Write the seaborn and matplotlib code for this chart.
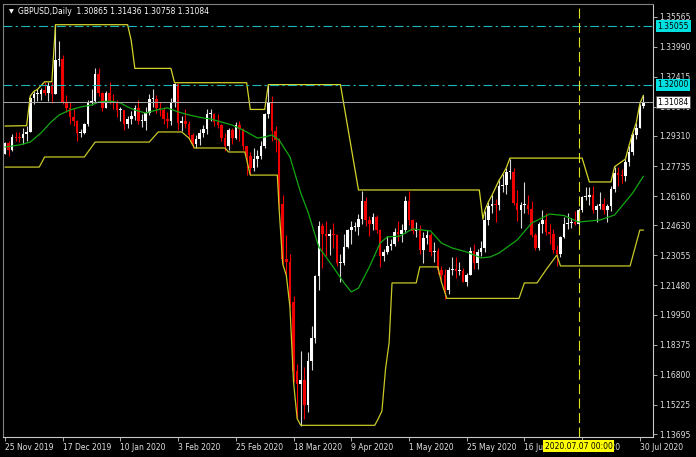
import numpy as np
import pandas as pd
import matplotlib
matplotlib.use("Agg")
import matplotlib.pyplot as plt
import matplotlib.transforms as mtransforms
import seaborn as sns


# === Daily bars 25 Nov 2019 .. 31 Jul 2020 (weekdays, no 25 Dec / 1 Jan) === #
dates = pd.bdate_range("2019-11-25", "2020-07-31")
dates = dates[~dates.isin(pd.to_datetime(["2019-12-25", "2020-01-01"]))]

first_open = 1.2838

closes = [
    # Nov
    1.2893, 1.2858, 1.2925, 1.2920, 1.2918,
    # Dec
    1.2942, 1.2953, 1.3132, 1.3150, 1.3152, 1.3170, 1.3155, 1.3195, 1.3150, 1.3330,
    1.3335, 1.3110, 1.3080, 1.3030, 1.3010, 1.2945, 1.2945, 1.2995, 1.3105, 1.3115, 1.3255,
    # Jan
    1.3155, 1.3080, 1.3155, 1.3115, 1.3110, 1.3065, 1.3065, 1.2995, 1.3020, 1.3035, 1.3075,
    1.3010, 1.3010, 1.3050, 1.3125, 1.3125, 1.3075, 1.3065, 1.3020, 1.3010, 1.3110, 1.3205,
    # Feb
    1.3000, 1.3010, 1.2995, 1.2935, 1.2890, 1.2915, 1.2945, 1.2970, 1.3045, 1.3045,
    1.3005, 1.2990, 1.2920, 1.2880, 1.2960, 1.2920, 1.2990, 1.2970, 1.2880, 1.2825,
    # Mar
    1.2765, 1.2810, 1.2825, 1.2880, 1.3045, 1.3110, 1.2955, 1.2910, 1.2575, 1.2285, 1.2270,
    1.2060, 1.1700, 1.1630, 1.1650, 1.1520, 1.1750, 1.1875, 1.2195, 1.2460, 1.2415, 1.2405,
    # Apr
    1.2415, 1.2410, 1.2265, 1.2265, 1.2350, 1.2440, 1.2455, 1.2455, 1.2495, 1.2590, 1.2490,
    1.2470, 1.2505, 1.2440, 1.2300, 1.2325, 1.2355, 1.2365, 1.2430, 1.2415, 1.2440, 1.2590,
    # May
    1.2490, 1.2435, 1.2440, 1.2335, 1.2395, 1.2410, 1.2325, 1.2330, 1.2230, 1.2200, 1.2125,
    1.2230, 1.2235, 1.2225, 1.2225, 1.2165, 1.2200, 1.2330, 1.2265, 1.2325, 1.2345,
    # Jun
    1.2490, 1.2565, 1.2575, 1.2570, 1.2670, 1.2675, 1.2740, 1.2740, 1.2580, 1.2545, 1.2570,
    1.2570, 1.2550, 1.2410, 1.2345, 1.2470, 1.2490, 1.2430, 1.2415, 1.2335, 1.2310, 1.2400,
    # Jul
    1.2470, 1.2475, 1.2480, 1.2470, 1.2545, 1.2610, 1.2610, 1.2620, 1.2545, 1.2565, 1.2575, 1.2545,
    1.2565, 1.2655, 1.2735, 1.2725, 1.2720, 1.2795, 1.2845, 1.2935, 1.2975, 1.30865, 1.31084,
]

highs = [
    1.2900, 1.2905, 1.2940, 1.2950, 1.2950,
    1.2975, 1.2985, 1.3140, 1.3165, 1.3175, 1.3180, 1.3215, 1.3215, 1.3215, 1.3514,
    1.3430, 1.3355, 1.3145, 1.3110, 1.3075, 1.3015, 1.2970, 1.3000, 1.3120, 1.3175, 1.3285,
    1.3285, 1.3160, 1.3165, 1.3215, 1.3150, 1.3120, 1.3085, 1.3065, 1.3035, 1.3060, 1.3095,
    1.3120, 1.3045, 1.3085, 1.3150, 1.3175, 1.3145, 1.3110, 1.3085, 1.3055, 1.3130, 1.3210,
    1.3210, 1.3035, 1.3070, 1.3010, 1.2945, 1.2935, 1.2965, 1.2990, 1.3070, 1.3070,
    1.3050, 1.3045, 1.2995, 1.2945, 1.2975, 1.2975, 1.3005, 1.3010, 1.2975, 1.2880,
    1.2845, 1.2870, 1.2860, 1.2905, 1.3050, 1.3200, 1.3140, 1.2985, 1.2920, 1.2620, 1.2410,
    1.2310, 1.2090, 1.1735, 1.1805, 1.1720, 1.1800, 1.1935, 1.2205, 1.2485, 1.2475, 1.2485,
    1.2445, 1.2475, 1.2415, 1.2315, 1.2415, 1.2445, 1.2485, 1.2480, 1.2520, 1.2645, 1.2610,
    1.2510, 1.2530, 1.2515, 1.2445, 1.2340, 1.2405, 1.2390, 1.2450, 1.2485, 1.2470, 1.2615,
    1.2645, 1.2495, 1.2480, 1.2465, 1.2430, 1.2440, 1.2420, 1.2375, 1.2345, 1.2250, 1.2235,
    1.2245, 1.2295, 1.2295, 1.2270, 1.2240, 1.2215, 1.2350, 1.2365, 1.2340, 1.2380,
    1.2540, 1.2585, 1.2620, 1.2600, 1.2700, 1.2730, 1.2765, 1.2812, 1.2765, 1.2650, 1.2585,
    1.2690, 1.2620, 1.2590, 1.2425, 1.2480, 1.2545, 1.2530, 1.2470, 1.2445, 1.2360, 1.2405,
    1.2505, 1.2530, 1.2500, 1.2540, 1.2555, 1.2615, 1.2665, 1.2665, 1.2670, 1.2575, 1.2640, 1.2605,
    1.2575, 1.2670, 1.2770, 1.2770, 1.2760, 1.2810, 1.2880, 1.2945, 1.3000, 1.3100, 1.31436,
]

lows = [
    1.2835, 1.2825, 1.2850, 1.2905, 1.2900,
    1.2890, 1.2905, 1.2950, 1.3100, 1.3115, 1.3120, 1.3145, 1.3115, 1.3105, 1.3150,
    1.3300, 1.3100, 1.3055, 1.2995, 1.2985, 1.2905, 1.2925, 1.2940, 1.2985, 1.3095, 1.3105,
    1.3140, 1.3060, 1.3080, 1.3100, 1.3070, 1.3030, 1.3010, 1.2960, 1.2975, 1.2995, 1.3015,
    1.2995, 1.2980, 1.2960, 1.3040, 1.3085, 1.3050, 1.3035, 1.2995, 1.2975, 1.2990, 1.3085,
    1.2960, 1.2955, 1.2975, 1.2920, 1.2870, 1.2870, 1.2885, 1.2925, 1.2940, 1.3010,
    1.2985, 1.2975, 1.2905, 1.2850, 1.2855, 1.2890, 1.2915, 1.2905, 1.2860, 1.2725,
    1.2725, 1.2745, 1.2770, 1.2810, 1.2870, 1.3025, 1.2905, 1.2845, 1.2550, 1.2260, 1.2200,
    1.2035, 1.1640, 1.1450, 1.1409, 1.1450, 1.1485, 1.1705, 1.1845, 1.2125, 1.2240, 1.2300,
    1.2305, 1.2345, 1.2250, 1.2165, 1.2255, 1.2345, 1.2365, 1.2435, 1.2410, 1.2470, 1.2460,
    1.2405, 1.2440, 1.2425, 1.2245, 1.2275, 1.2310, 1.2335, 1.2355, 1.2380, 1.2375, 1.2420,
    1.2465, 1.2415, 1.2400, 1.2315, 1.2265, 1.2365, 1.2300, 1.2270, 1.2210, 1.2165, 1.2075,
    1.2105, 1.2205, 1.2185, 1.2200, 1.2165, 1.2145, 1.2200, 1.2235, 1.2235, 1.2300,
    1.2325, 1.2465, 1.2530, 1.2480, 1.2545, 1.2635, 1.2625, 1.2705, 1.2570, 1.2485, 1.2450,
    1.2530, 1.2520, 1.2400, 1.2335, 1.2335, 1.2425, 1.2410, 1.2365, 1.2320, 1.2250, 1.2295,
    1.2395, 1.2445, 1.2450, 1.2465, 1.2465, 1.2535, 1.2595, 1.2570, 1.2530, 1.2480, 1.2550, 1.2520,
    1.2480, 1.2540, 1.2640, 1.2670, 1.2685, 1.2695, 1.2775, 1.2830, 1.2915, 1.2975, 1.30758,
]

# === Indicator lines (bar index, price) === #
ma_x = [0, 4, 7, 10, 12.5, 15, 18, 21, 24, 26, 29, 32, 34, 36, 39, 42, 45, 48, 51, 55,
        57, 60, 63, 66, 68.5, 70, 72, 74, 76, 79, 82, 84, 87, 91, 94, 96, 98, 101, 104, 106,
        109.5, 113, 118, 121, 124, 128, 132, 134.5, 137, 142, 146, 151, 155, 159, 165, 169, 174, 177]
ma_y = [1.2873, 1.2884, 1.2899, 1.2947, 1.2999, 1.3041, 1.3067, 1.3083, 1.3093, 1.3109,
        1.3114, 1.3104, 1.3083, 1.3067, 1.3051, 1.3067, 1.3078, 1.3057, 1.3041, 1.3025,
        1.3020, 1.3004, 1.2988, 1.2962, 1.2936, 1.2920, 1.2926, 1.2936, 1.2910, 1.2821,
        1.2632, 1.2533, 1.2349, 1.2244, 1.2161, 1.2114, 1.2134, 1.2244, 1.2370, 1.2402,
        1.2407, 1.2444, 1.2433, 1.2370, 1.2344, 1.2323, 1.2292, 1.2297, 1.2318, 1.2386,
        1.2475, 1.2522, 1.2514, 1.2480, 1.2491, 1.2517, 1.2632, 1.2720]

upper_x = [0, 6, 7, 8, 9, 11, 13, 14, 34, 35, 36, 46, 47, 67, 68, 72, 73, 93, 98, 131.5,
           132.5, 133, 134, 135, 137, 138, 139, 140, 160, 162, 168, 169, 172, 173, 174, 175, 176, 177]
upper_y = [1.2983, 1.2985, 1.3140, 1.3165, 1.3175, 1.3215, 1.3215, 1.3514, 1.3514, 1.3430,
           1.3285, 1.3285, 1.3210, 1.3210, 1.3070, 1.3070, 1.3200, 1.3200, 1.2648, 1.2648,
           1.2495, 1.2540, 1.2585, 1.2620, 1.2700, 1.2730, 1.2765, 1.2815, 1.2815, 1.2690,
           1.2690, 1.2770, 1.2810, 1.2880, 1.2945, 1.3000, 1.3100, 1.3144]

lower_x = [0, 9.5, 11, 22, 25, 40, 42.5, 49, 51, 52.5, 61, 62, 66.5, 68, 75.5, 76, 77, 78, 79, 80,
           81, 82, 102.5, 103.5, 104.5, 105.5, 106.5, 107.3, 114, 115, 120, 121, 122.5, 142.5, 144,
           147.5, 150, 153, 154, 173.3, 176, 177]
lower_y = [1.2768, 1.2768, 1.2821, 1.2821, 1.2899, 1.2899, 1.2952, 1.2952, 1.2920, 1.2868,
           1.2868, 1.2847, 1.2847, 1.2726, 1.2726, 1.2550, 1.2260, 1.2200, 1.2035, 1.1640,
           1.1450, 1.1415, 1.1415, 1.1450, 1.1490, 1.1710, 1.1850, 1.2161, 1.2161, 1.2245,
           1.2245, 1.2165, 1.2080, 1.2080, 1.2161, 1.2161, 1.2230, 1.2307, 1.2250, 1.2250,
           1.2438, 1.2438]

levels = [1.35055, 1.32000]
bid_price = 1.31084
price_ticks = [1.35565, 1.33990, 1.32415, 1.30840, 1.29310, 1.27735, 1.26160, 1.24630,
               1.23055, 1.21480, 1.19950, 1.18375, 1.16800, 1.15225, 1.13695]
marked_bar = 159
marked_label = "2020.07.07 00:00"
title = "GBPUSD,Daily  1.30865 1.31436 1.30758 1.31084"

df = pd.DataFrame({"date": dates, "open": [first_open] + closes[:-1],
                   "high": highs, "low": lows, "close": closes})
df["x"] = np.arange(len(df))

# === Style === #
sns.set_style("dark", {"axes.facecolor": "black", "figure.facecolor": "black"})
plt.rcParams["font.family"] = ["DejaVu Sans"]
fs = 5.5
txt_col = "#e0e0e0"

fig = plt.figure(figsize=(6.96, 4.57), dpi=100)
fig.patch.set_facecolor("black")
ax = fig.add_axes([3 / 696, 20 / 457, 650 / 696, 433 / 457])
ax.set_facecolor("black")

# === Candles === #
bull = df[df["close"] >= df["open"]]
bear = df[df["close"] < df["open"]]
for part, body_col, wick_col in [(bull, "#ffffff", "#d8d8d8"), (bear, "#f00000", "#f00000")]:
    ax.vlines(part["x"], part["low"], part["high"], color=wick_col, lw=0.8, zorder=2)
    lo = part[["open", "close"]].min(axis=1)
    h = (part["close"] - part["open"]).abs().clip(lower=0.0005)
    ax.bar(part["x"], h, bottom=lo, width=0.72, color=body_col, linewidth=0, zorder=2)

# === Indicators === #
sns.lineplot(x=ma_x, y=ma_y, ax=ax, color="#12a812", lw=0.9, sort=False, estimator=None, zorder=3)
sns.lineplot(x=upper_x, y=upper_y, ax=ax, color="#d4d42a", lw=0.9, sort=False, estimator=None, zorder=3)
sns.lineplot(x=lower_x, y=lower_y, ax=ax, color="#c8c828", lw=0.9, sort=False, estimator=None, zorder=3)

for lv in levels:
    ax.axhline(lv, color="#1fb8b8", lw=0.8, ls=(0, (8, 3, 2, 3)), zorder=4)
ax.axhline(bid_price, color="#a8a8a8", lw=0.7, zorder=4)
ax.axvline(marked_bar, color="#e0e020", lw=0.8, ls=(0, (9, 4)), zorder=4)

# === Axes === #
ax.set_xlim(-0.55, 179.65)
ax.set_ylim(1.13538, 1.36224)
ax.set_xlabel("")
ax.set_ylabel("")

tick_idx = list(range(0, len(df), 16))
ax.set_xticks(tick_idx)
ax.set_xticklabels([f"{d.day} {d:%b %Y}" for d in df["date"].iloc[tick_idx]], ha="left")
ax.tick_params(axis="x", bottom=True, direction="out", length=3, width=0.6, color="#c8c8c8",
               labelcolor=txt_col, labelsize=fs, pad=1.5)

ax.yaxis.tick_right()
ax.set_yticks(price_ticks)
ax.set_yticklabels([f"{v:.5f}" for v in price_ticks])
ax.tick_params(axis="y", right=True, left=False, labelright=True, labelleft=False,
               direction="out", length=3, width=0.6, color="#c8c8c8",
               labelcolor=txt_col, labelsize=fs, pad=1.5)

for side in ["left", "top"]:
    ax.spines[side].set_color("#808080")
for side in ["right", "bottom"]:
    ax.spines[side].set_color("#c8c8c8")
for s in ax.spines.values():
    s.set_visible(True)
    s.set_linewidth(0.8)

# === Price / time labels === #
ytrans = mtransforms.blended_transform_factory(ax.transAxes, ax.transData)
for lv in levels:
    ax.text(1.007, lv, f"{lv:.5f}", transform=ytrans, fontsize=fs, color="black",
            va="center", ha="left", zorder=10, clip_on=False,
            bbox=dict(boxstyle="square,pad=0.2", fc="#00e0e0", ec="none"))
ax.text(1.007, bid_price, f"{bid_price:.5f}", transform=ytrans, fontsize=fs, color="black",
        va="center", ha="left", zorder=10, clip_on=False,
        bbox=dict(boxstyle="square,pad=0.2", fc="white", ec="#404040", lw=0.5))

xtrans = mtransforms.blended_transform_factory(ax.transData, ax.transAxes)
ax.text(marked_bar, -0.021, marked_label, transform=xtrans, fontsize=fs, color="black",
        va="center", ha="center", zorder=10, clip_on=False,
        bbox=dict(boxstyle="square,pad=0.15", fc="#ffff00", ec="none"))

fig.text(9 / 696, 1 - 12 / 457, "\u25bc", color="white", fontsize=4.5, va="center")
fig.text(18 / 696, 1 - 12 / 457, title, color="white", fontsize=fs, va="center")

fig.savefig("out.png", dpi=100, facecolor="black")
plt.close()
